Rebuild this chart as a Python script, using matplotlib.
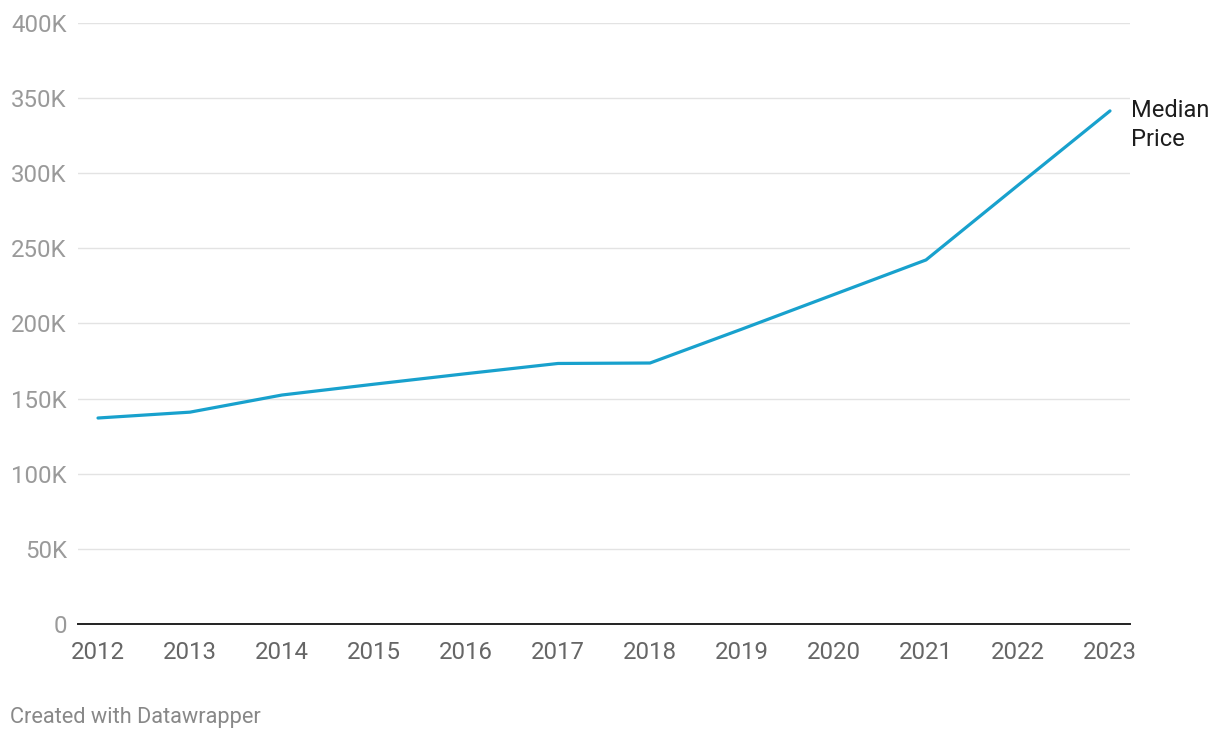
import matplotlib
matplotlib.use("Agg")
import matplotlib.pyplot as plt
from matplotlib.ticker import FuncFormatter

years = [2012, 2013, 2014, 2015, 2016, 2017, 2018, 2019, 2020, 2021, 2022, 2023]
median_price = [137100, 141000, 152400, 159600, 166600, 173400, 173700,
                196300, 219300, 242300, 292000, 341500]
y_ticks = [0, 50000, 100000, 150000, 200000, 250000, 300000, 350000, 400000]

plt.rcParams['font.family'] = ['Roboto', 'DejaVu Sans']

fig = plt.figure(figsize=(12.2, 7.4), dpi=100)
ax = fig.add_axes([78 / 1220, 1 - 624 / 740, (1130 - 78) / 1220, (624 - 23) / 740])

ax.plot(years, median_price, color='#18a1cd', lw=2.3, solid_capstyle='round',
        solid_joinstyle='round', zorder=3)

ax.set_xlim(2012 - 20 / 92, 2023 + 20 / 92)
ax.set_ylim(0, 400000)
ax.set_yticks(y_ticks)
ax.set_xticks(years)
ax.yaxis.set_major_formatter(FuncFormatter(lambda v, p: '0' if v == 0 else f'{int(v / 1000)}K'))

ax.grid(axis='y', color='#e3e3e3', lw=1)
ax.set_axisbelow(True)
for s in ['top', 'right', 'left']:
    ax.spines[s].set_visible(False)
ax.spines['bottom'].set_color('#222222')
ax.spines['bottom'].set_linewidth(1.4)
ax.spines['bottom'].set_zorder(4)

ax.tick_params(axis='y', length=0, pad=8, labelsize=17.3, labelcolor='#9a9a9a')
ax.tick_params(axis='x', length=0, pad=12, labelsize=17.3, labelcolor='#666666')

fig.text(1131 / 1220, 1 - 125 / 740, 'Median\nPrice', fontsize=17, color='#1d1d1d',
         va='center', ha='left', linespacing=1.28)

fig.text(10 / 1220, 1 - 718 / 740, 'Created with Datawrapper', fontsize=15.7,
         color='#888888', va='center', ha='left')

fig.savefig('out.png', dpi=100)
